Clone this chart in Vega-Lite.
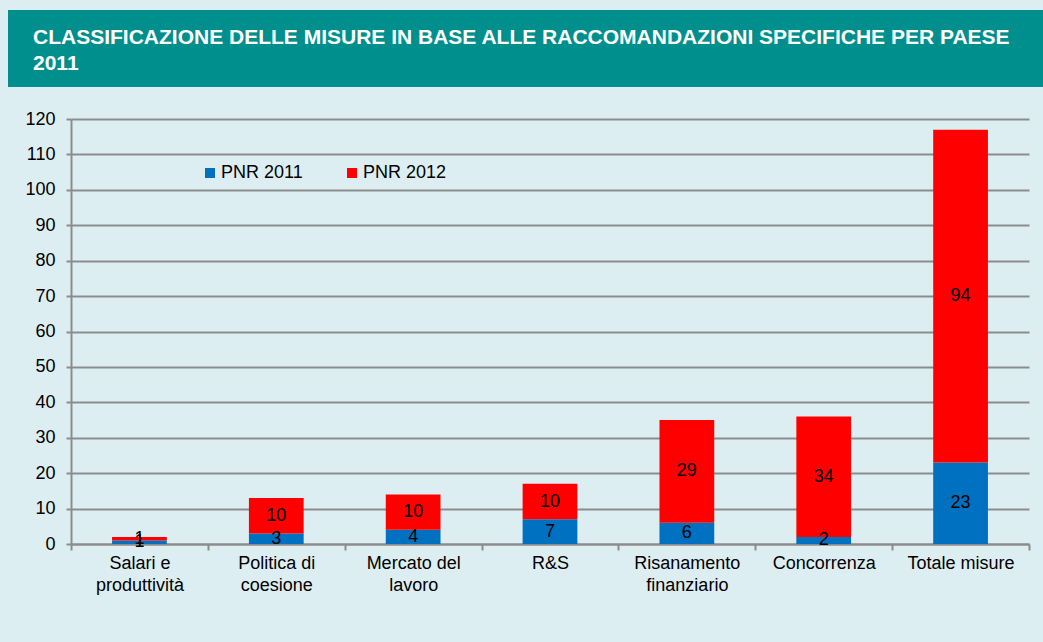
{
  "$schema": "https://vega.github.io/schema/vega-lite/v6.json",
  "background": "#DDEEF2",
  "padding": {"left": 8, "top": 10, "right": 0, "bottom": 48},
  "spacing": 23,
  "center": true,
  "config": {
    "font": "Liberation Sans",
    "view": {"stroke": null},
    "axisY": {
      "title": null,
      "values": [0, 10, 20, 30, 40, 50, 60, 70, 80, 90, 100, 110, 120],
      "labelFontSize": 18,
      "labelColor": "#000000",
      "labelPadding": 11,
      "tickSize": 5,
      "tickColor": "#8C8C8C",
      "tickWidth": 2,
      "domainColor": "#8C8C8C",
      "domainWidth": 2,
      "gridColor": "#8C8C8C",
      "gridWidth": 2
    }
  },
  "vconcat": [
    {
      "width": 1085,
      "height": 77,
      "data": {"values": [{"fascia": "titolo"}]},
      "title": {
        "text": ["CLASSIFICAZIONE DELLE MISURE IN BASE ALLE RACCOMANDAZIONI SPECIFICHE PER PAESE", "2011"],
        "anchor": "start",
        "frame": "group",
        "orient": "top",
        "baseline": "top",
        "offset": -64,
        "dx": 25,
        "lineHeight": 26,
        "fontSize": 21,
        "fontWeight": "bold",
        "color": "#FFFFFF",
        "font": "Liberation Sans"
      },
      "mark": {"type": "rect", "color": "#008F8D"},
      "encoding": {}
    },
    {
      "width": 958,
      "height": 425,
      "data": {
        "values": [
          {"categoria": "Salari e produttività", "serie": "PNR 2011", "n": 1},
          {"categoria": "Salari e produttività", "serie": "PNR 2012", "n": 1},
          {"categoria": "Politica di coesione", "serie": "PNR 2011", "n": 3},
          {"categoria": "Politica di coesione", "serie": "PNR 2012", "n": 10},
          {"categoria": "Mercato del lavoro", "serie": "PNR 2011", "n": 4},
          {"categoria": "Mercato del lavoro", "serie": "PNR 2012", "n": 10},
          {"categoria": "R&S", "serie": "PNR 2011", "n": 7},
          {"categoria": "R&S", "serie": "PNR 2012", "n": 10},
          {"categoria": "Risanamento finanziario", "serie": "PNR 2011", "n": 6},
          {"categoria": "Risanamento finanziario", "serie": "PNR 2012", "n": 29},
          {"categoria": "Concorrenza", "serie": "PNR 2011", "n": 2},
          {"categoria": "Concorrenza", "serie": "PNR 2012", "n": 34},
          {"categoria": "Totale misure", "serie": "PNR 2011", "n": 23},
          {"categoria": "Totale misure", "serie": "PNR 2012", "n": 94}
        ]
      },
      "encoding": {
        "x": {
          "field": "categoria",
          "type": "nominal",
          "sort": null,
          "scale": {"paddingInner": 0, "paddingOuter": 0},
          "axis": {
            "title": null,
            "labelAngle": 0,
            "labelFontSize": 18,
            "labelColor": "#000000",
            "labelPadding": 4,
            "labelLineHeight": 22,
            "tickBand": "extent",
            "domainColor": "#8C8C8C",
            "domainWidth": 2,
            "tickColor": "#8C8C8C",
            "tickWidth": 2,
            "tickSize": 6,
            "labelExpr": "datum.value == 'Salari e produttività' ? ['Salari e', 'produttività'] : datum.value == 'Politica di coesione' ? ['Politica di', 'coesione'] : datum.value == 'Mercato del lavoro' ? ['Mercato del', 'lavoro'] : datum.value == 'Risanamento finanziario' ? ['Risanamento', 'finanziario'] : datum.value"
          }
        }
      },
      "layer": [
        {
          "mark": {"type": "bar", "width": {"band": 0.4}},
          "encoding": {
            "y": {
              "field": "n",
              "type": "quantitative",
              "stack": "zero",
              "scale": {"domain": [0, 120], "nice": false}
            },
            "color": {
              "field": "serie",
              "type": "nominal",
              "scale": {"domain": ["PNR 2011", "PNR 2012"], "range": ["#0070C0", "#FF0000"]},
              "legend": {
                "title": null,
                "orient": "none",
                "legendX": 193,
                "legendY": 154,
                "direction": "horizontal",
                "symbolType": "square",
                "symbolSize": 100,
                "symbolStrokeWidth": 0,
                "labelFontSize": 18,
                "labelColor": "#000000",
                "labelOffset": 2,
                "columnPadding": 40
              }
            },
            "order": {"field": "serie"}
          }
        },
        {
          "transform": [
            {"stack": "n", "groupby": ["categoria"], "sort": [{"field": "serie"}], "as": ["y0", "y1"]},
            {"calculate": "(datum.y0 + datum.y1) / 2", "as": "ymid"}
          ],
          "mark": {"type": "text", "fontSize": 18, "color": "#000000"},
          "encoding": {
            "y": {"field": "ymid", "type": "quantitative", "scale": {"domain": [0, 120], "nice": false}},
            "text": {"field": "n", "type": "quantitative"}
          }
        }
      ]
    }
  ]
}
